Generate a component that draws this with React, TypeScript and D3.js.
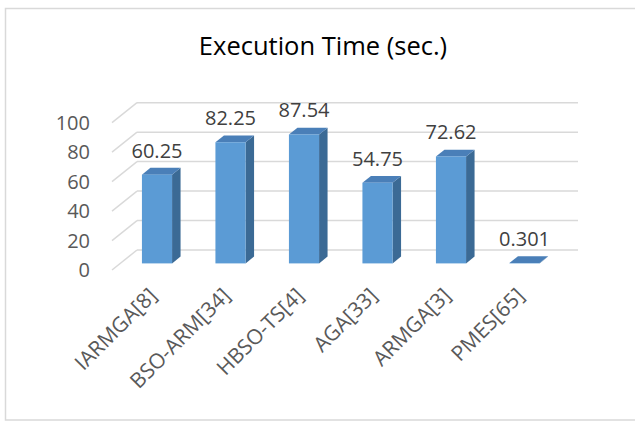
import React from 'react';
import * as d3 from 'd3';

const CATEGORIES = ['IARMGA[8]', 'BSO-ARM[34]', 'HBSO-TS[4]', 'AGA[33]', 'ARMGA[3]', 'PMES[65]'];
const VALUES = [60.25, 82.25, 87.54, 54.75, 72.62, 0.301];
const VALUE_LABELS = ['60.25', '82.25', '87.54', '54.75', '72.62', '0.301'];
const Y_TICKS = [0, 20, 40, 60, 80, 100];
const TITLE = 'Execution Time (sec.)';

const W = 635;
const H = 422;
const FONT = '"Open Sans", "Noto Sans", sans-serif';

// floor depth vector, front -> back wall
const DX = 25;
const DY = -20;
const BAR_D0 = 0.33; // bar front face, fraction of depth
const BAR_D1 = 0.67; // bar back face

export default function App() {
  const x = d3.scaleBand<string>().domain(CATEGORIES).range([137, 578])
    .paddingInner(0.59).paddingOuter(0.295);
  const y = d3.scaleLinear().domain([0, 100]).range([250, 102.7]);

  // project a back-wall point toward the viewer by (1 - depth) of the floor depth
  const px = (xb: number, d: number) => xb - DX * (1 - d);
  const py = (v: number, d: number) => y(v) - DY * (1 - d);

  const pts = (a: [number, number][]) => a.map(p => p.join(',')).join(' ');

  return (
    <div style={{ position: 'absolute', left: 0, top: 0, background: 'white' }}>
      <svg width={W} height={H} viewBox={`0 0 ${W} ${H}`} style={{ display: 'block' }}>
        <rect x={0} y={0} width={W} height={H} fill="white" />
        <rect x={5.5} y={8.5} width={W + 5} height={411.5} fill="none" stroke="#d9d9d9" strokeWidth={1.5} />

        <text x={323} y={55} textAnchor="middle" fontFamily={FONT} fontSize={25.5} fill="#000">{TITLE}</text>

        {/* gridlines: back wall + left side diagonals */}
        {Y_TICKS.map(t => (
          <g key={t}>
            <line x1={137} x2={578} y1={y(t)} y2={y(t)} stroke="#d9d9d9" strokeWidth={1.5} />
            <line x1={px(137, 0)} y1={py(t, 0)} x2={137} y2={y(t)} stroke="#d9d9d9" strokeWidth={1.5} />
            <text x={90} y={py(t, 0)} dy="0.36em" textAnchor="end" fontFamily={FONT} fontSize={20} fill="#595959">{t}</text>
          </g>
        ))}

        {CATEGORIES.map((c, i) => {
          const v = VALUES[i];
          const xb0 = x(c)!;
          const xb1 = xb0 + x.bandwidth();
          const fx0 = px(xb0, BAR_D0), fx1 = px(xb1, BAR_D0);
          const bx0 = px(xb0, BAR_D1), bx1 = px(xb1, BAR_D1);
          const fyT = py(v, BAR_D0), fyB = py(0, BAR_D0);
          const byT = py(v, BAR_D1), byB = py(0, BAR_D1);
          const cx = (fx0 + fx1) / 2;
          return (
            <g key={c}>
              <polygon points={pts([[fx1, fyT], [bx1, byT], [bx1, byB], [fx1, fyB]])} fill="#3b6a95" />
              <polygon points={pts([[fx0, fyT], [bx0, byT], [bx1, byT], [fx1, fyT]])} fill="#4a7fb8" />
              <rect x={fx0} y={fyT} width={fx1 - fx0} height={Math.max(0, fyB - fyT)} fill="#5b9bd5" />
              <text x={cx} y={fyT - 17} textAnchor="middle" fontFamily={FONT} fontSize={20} fill="#404040">{VALUE_LABELS[i]}</text>
              <text transform={`translate(${cx + 1},297) rotate(-45)`} textAnchor="end" fontFamily={FONT} fontSize={21} fill="#595959">{c}</text>
            </g>
          );
        })}
      </svg>
    </div>
  );
}
